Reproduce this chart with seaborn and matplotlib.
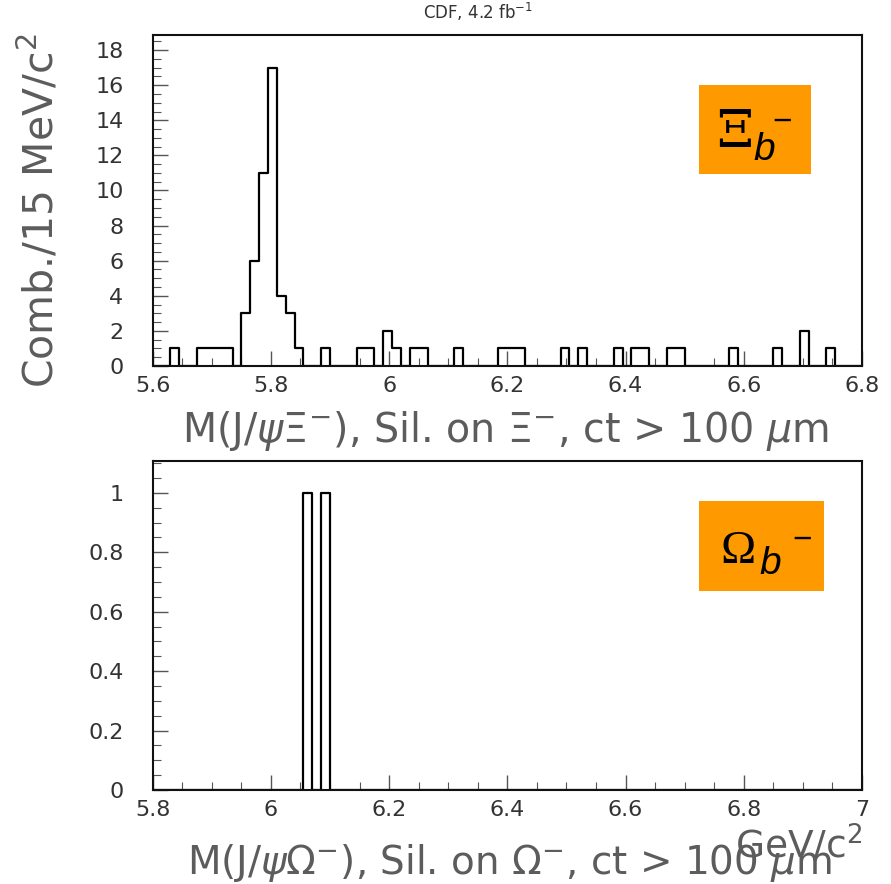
import numpy as np
import pandas as pd
import matplotlib
matplotlib.use("Agg")
import matplotlib.pyplot as plt
from matplotlib.patches import Rectangle
from matplotlib.ticker import MultipleLocator, FuncFormatter
import seaborn as sns

# ---------------- data ----------------
xi_range = (5.6, 6.8)          # GeV/c^2, 15 MeV bins
xi_counts = [0, 0, 1, 0, 0, 1, 1, 1, 1, 0,
             3, 6, 11, 17, 4, 3, 1, 0, 0, 1,
             0, 0, 0, 1, 1, 0, 2, 1, 0, 1,
             1, 0, 0, 0, 1, 0, 0, 0, 0, 1,
             1, 1, 0, 0, 0, 0, 1, 0, 1, 0,
             0, 0, 1, 0, 1, 1, 0, 0, 1, 1,
             0, 0, 0, 0, 0, 1, 0, 0, 0, 0,
             1, 0, 0, 2, 0, 0, 1, 0, 0, 0]

omega_range = (5.8, 7.0)       # GeV/c^2, 15 MeV bins
omega_counts = [0, 0, 0, 0, 0, 0, 0, 0, 0, 0,
                0, 0, 0, 0, 0, 0, 0, 1, 0, 1,
                0, 0, 0, 0, 0, 0, 0, 0, 0, 0,
                0, 0, 0, 0, 0, 0, 0, 0, 0, 0,
                0, 0, 0, 0, 0, 0, 0, 0, 0, 0,
                0, 0, 0, 0, 0, 0, 0, 0, 0, 0,
                0, 0, 0, 0, 0, 0, 0, 0, 0, 0,
                0, 0, 0, 0, 0, 0, 0, 0, 0, 0]

title_text = "CDF, 4.2 fb$^{-1}$"
top_ylabel = "Comb./15 MeV/c$^2$"
top_xlabel = r"M(J/$\psi\Xi^{-}$), Sil. on $\Xi^{-}$, ct > 100 $\mu$m"
bot_xlabel = r"M(J/$\psi\Omega^{-}$), Sil. on $\Omega^{-}$, ct > 100 $\mu$m"
unit_text = "GeV/c$^2$"

# ---------------- style ----------------
sns.set_style("white")
plt.rcParams["font.family"] = ["DejaVu Sans"]
plt.rcParams["mathtext.fontset"] = "dejavusans"

LABEL_COLOR = "#5c5c5c"
TICK_COLOR = "#333333"
ORANGE = "#FF9900"

fig = plt.figure(figsize=(8.91, 8.84), dpi=100)
ax1 = fig.add_axes([0.1714, 0.586, 0.796, 0.3744])
ax2 = fig.add_axes([0.1714, 0.1063, 0.796, 0.3725])


def make_df(rng, counts):
    edges = np.linspace(rng[0], rng[1], len(counts) + 1)
    centers = 0.5 * (edges[:-1] + edges[1:])
    return pd.DataFrame({"mass": centers, "count": np.asarray(counts, float)})


df1 = make_df(xi_range, xi_counts)
df2 = make_df(omega_range, omega_counts)

sns.histplot(data=df1, x="mass", weights="count", bins=len(xi_counts),
             binrange=xi_range, element="step",
             fill=False, color="black", linewidth=1.6, ax=ax1)
sns.histplot(data=df2, x="mass", weights="count", bins=len(omega_counts),
             binrange=omega_range, element="step",
             fill=False, color="black", linewidth=1.6, ax=ax2)

ax1.set_xlim(*xi_range)
ax1.set_ylim(0, 18.86)
ax2.set_xlim(*omega_range)
ax2.set_ylim(0, 1.108)

fmt = FuncFormatter(lambda v, p: "%g" % round(v, 6))
for ax, ymaj, ymin in ((ax1, 2, 0.5), (ax2, 0.2, 0.05)):
    ax.xaxis.set_major_locator(MultipleLocator(0.2))
    ax.xaxis.set_minor_locator(MultipleLocator(0.05))
    ax.yaxis.set_major_locator(MultipleLocator(ymaj))
    ax.yaxis.set_minor_locator(MultipleLocator(ymin))
    ax.xaxis.set_major_formatter(fmt)
    ax.yaxis.set_major_formatter(fmt)
    for s in ax.spines.values():
        s.set_visible(True)
        s.set_linewidth(1.5)
        s.set_color("#111111")
    ax.tick_params(which="both", direction="in", bottom=True, left=True,
                   top=False, right=False,
                   color="#555555", labelcolor=TICK_COLOR, labelsize=16)
    ax.tick_params(which="major", length=11, width=1.0)
    ax.tick_params(which="minor", length=5.5, width=0.8)
    ax.tick_params(axis="y", which="major", pad=21)
    ax.tick_params(axis="x", which="major", pad=7)
    ax.set_ylabel("")
    ax.set_xlabel("")

ax1.set_ylabel(top_ylabel, fontsize=29.5, color=LABEL_COLOR)
ax1.yaxis.set_label_coords(-0.158, 0.47)
ax1.yaxis.label.set_va("center")

ax1.set_xlabel(top_xlabel, fontsize=28.5, color=LABEL_COLOR)
ax1.xaxis.set_label_coords(0.498, -0.195)
ax1.xaxis.label.set_va("center")

ax2.set_xlabel(bot_xlabel, fontsize=28, color=LABEL_COLOR)
ax2.xaxis.set_label_coords(0.503, -0.221)
ax2.xaxis.label.set_va("center")

ax2.text(1.0, -0.168, unit_text, transform=ax2.transAxes, ha="right",
         va="center", fontsize=27, color=LABEL_COLOR)

fig.text(478 / 891, 1 - 12 / 884, title_text, ha="center", va="center",
         fontsize=12, color=TICK_COLOR)

W, H = 891.0, 884.0


def fx(px):
    return px / W


def fy(py):
    return 1 - py / H


# orange labels
fig.patches.append(Rectangle((fx(699), fy(174)), (811 - 699) / W, (174 - 85) / H,
                             transform=fig.transFigure, facecolor=ORANGE,
                             edgecolor="none", zorder=1))
fig.patches.append(Rectangle((fx(699), fy(590.7)), (824 - 699) / W, (590.7 - 501) / H,
                             transform=fig.transFigure, facecolor=ORANGE,
                             edgecolor="none", zorder=1))

fig.text(fx(735), fy(147), "\u039e", family="DejaVu Serif", fontsize=38,
         ha="center", va="baseline", color="black", zorder=5)
fig.text(fx(764), fy(160), "b", family="Liberation Sans", style="italic",
         fontsize=28, ha="center", va="baseline", color="black", zorder=5)
fig.text(fx(782.5), fy(130.5), "\u2212", family="Liberation Sans", fontsize=24,
         ha="center", va="baseline", color="black", zorder=5)

fig.text(fx(738.5), fy(563), "\u03a9", family="Liberation Serif", fontsize=34,
         ha="center", va="baseline", color="black", zorder=5)
fig.text(fx(770), fy(574), "b", family="Liberation Sans", style="italic",
         fontsize=28, ha="center", va="baseline", color="black", zorder=5)
fig.text(fx(802), fy(548.5), "\u2212", family="Liberation Sans", fontsize=24,
         ha="center", va="baseline", color="black", zorder=5)

fig.savefig("out.png", dpi=100)
